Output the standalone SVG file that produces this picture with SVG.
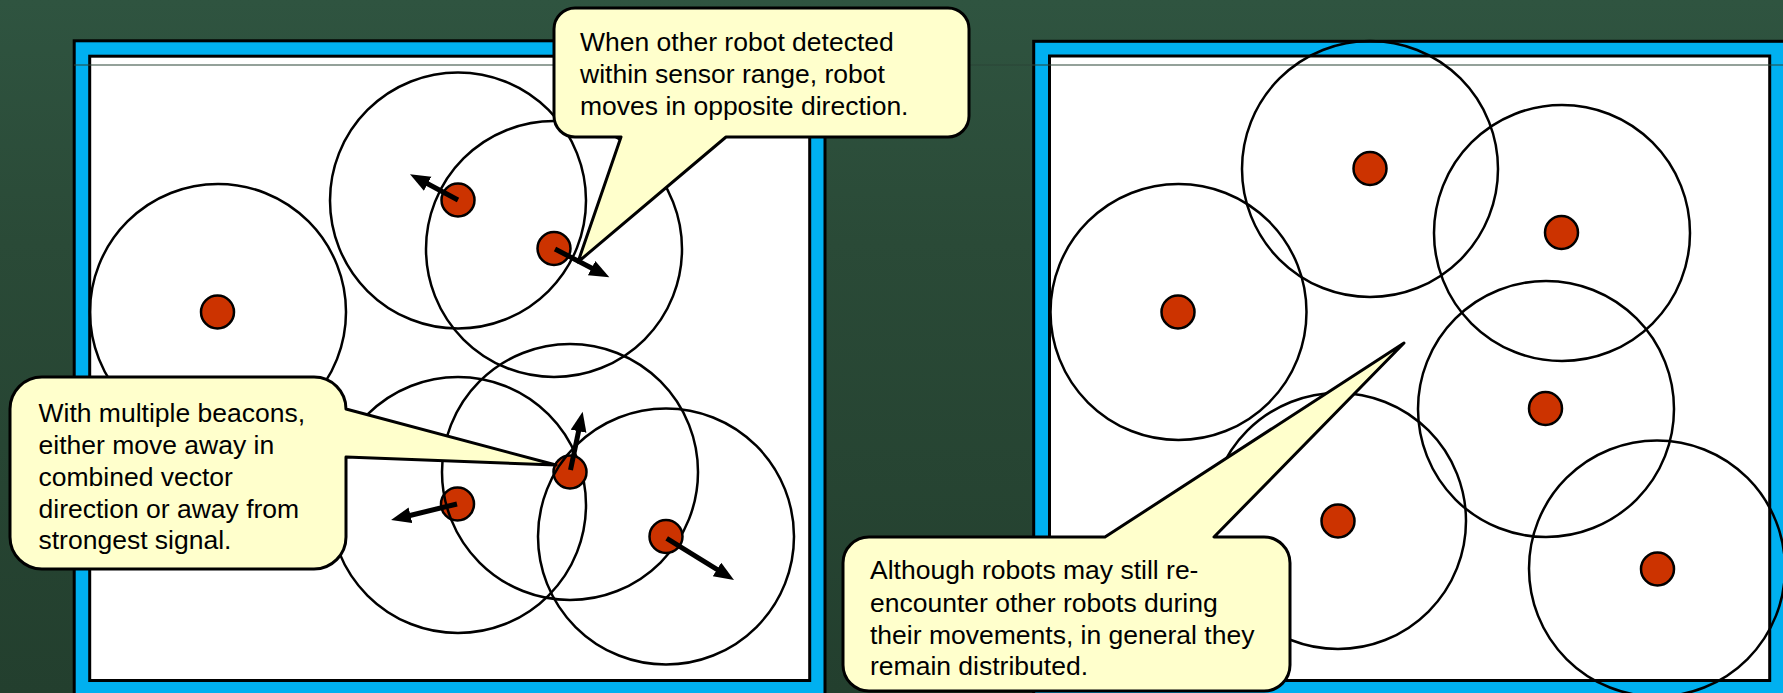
<svg xmlns="http://www.w3.org/2000/svg" width="1783" height="693" viewBox="0 0 1783 693">
<defs>
<linearGradient id="bg" x1="0" y1="0" x2="0" y2="1">
<stop offset="0" stop-color="#2f5440"/>
<stop offset="0.35" stop-color="#2a4a37"/>
<stop offset="1" stop-color="#233f2e"/>
</linearGradient>
<marker id="ah" markerUnits="userSpaceOnUse" markerWidth="22" markerHeight="18" refX="8" refY="8" orient="auto" viewBox="0 0 22 18">
<path d="M0,0 L20,8 L0,16 Z" fill="#000"/>
</marker>
<style>
.frame{fill:#00b0f0;stroke:#000;stroke-width:3}
.inner{fill:#fff;stroke:#000;stroke-width:3}
.range{fill:none;stroke:#000;stroke-width:2.5}
.robot{fill:#cc3300;stroke:#000;stroke-width:2.5}
.arrow{stroke:#000;stroke-width:5;fill:none;marker-end:url(#ah)}
.callout{fill:#ffffcc;stroke:#000;stroke-width:3;stroke-linejoin:round}
.txt{font-family:"Liberation Sans",Arial,sans-serif;font-size:26.5px;fill:#000}
</style>
</defs>
<rect x="0" y="0" width="1783" height="693" fill="url(#bg)"/>

<g id="panel-left">
<rect class="frame" x="74.2" y="40.8" width="750.8" height="700"/>
<rect class="inner" x="89.7" y="56.2" width="720" height="624.3"/>
</g>
<g id="panel-right">
<rect class="frame" x="1033.7" y="41.3" width="800" height="700"/>
<rect class="inner" x="1049.5" y="56" width="720.2" height="624.5"/>
</g>
<line x1="74" y1="65" x2="1783" y2="65" stroke="#2a4536" stroke-width="1.2"/>

<g id="left-robots">
<g id="robot-a"><circle class="range" cx="218" cy="312" r="128"/><circle class="robot" cx="217.5" cy="312" r="16.5"/></g>
<g id="robot-b"><circle class="range" cx="458" cy="200.5" r="128"/><circle class="robot" cx="458" cy="200" r="16.5"/></g>
<g id="robot-c"><circle class="range" cx="554" cy="249" r="128"/><circle class="robot" cx="554" cy="248.5" r="16.5"/></g>
<g id="robot-d"><circle class="range" cx="458" cy="505" r="128"/><circle class="robot" cx="457.5" cy="504" r="16.5"/></g>
<g id="robot-e"><circle class="range" cx="570" cy="472" r="128"/><circle class="robot" cx="570" cy="472" r="16.5"/></g>
<g id="robot-f"><circle class="range" cx="666" cy="536.5" r="128"/><circle class="robot" cx="666" cy="536.5" r="16.5"/></g>
</g>

<g id="right-robots">
<g id="robot-g"><circle class="range" cx="1370" cy="169" r="128"/><circle class="robot" cx="1370" cy="168.5" r="16.5"/></g>
<g id="robot-h"><circle class="range" cx="1178.5" cy="312" r="128"/><circle class="robot" cx="1178" cy="312" r="16.5"/></g>
<g id="robot-i"><circle class="range" cx="1562" cy="233" r="128"/><circle class="robot" cx="1561.5" cy="232.5" r="16.5"/></g>
<g id="robot-j"><circle class="range" cx="1546" cy="409" r="128"/><circle class="robot" cx="1545.5" cy="408.5" r="16.5"/></g>
<g id="robot-k"><circle class="range" cx="1338" cy="521" r="128"/><circle class="robot" cx="1338" cy="521" r="16.5"/></g>
<g id="robot-l"><circle class="range" cx="1657" cy="568.5" r="128"/><circle class="robot" cx="1657.5" cy="569" r="16.5"/></g>
</g>

<g id="connectors">
<line class="arrow" x1="458" y1="200" x2="420.6" y2="180"/>
<line class="arrow" x1="555" y1="249" x2="598.7" y2="271.8"/>
<line class="arrow" x1="570.5" y1="470" x2="580.2" y2="423.4"/>
<line class="arrow" x1="457" y1="504" x2="402.7" y2="517.2"/>
<line class="arrow" x1="666.7" y1="538.3" x2="723.8" y2="573.7"/>
</g>

<g id="callout-top">
<path class="callout" d="M575,8 H948 A21,21 0 0 1 969,29 V116 A21,21 0 0 1 948,137 H726 L578,262 L621,137 H575 A21,21 0 0 1 554,116 V29 A21,21 0 0 1 575,8 Z"/>
<text class="txt" x="580" y="50.7">When other robot detected</text>
<text class="txt" x="580" y="82.7">within sensor range, robot</text>
<text class="txt" x="580" y="115">moves in opposite direction.</text>
</g>

<g id="callout-left">
<path class="callout" d="M42,377 H314 A32,32 0 0 1 346,409 L556,465 L346,457 V537 A32,32 0 0 1 314,569 H42 A32,32 0 0 1 10,537 V409 A32,32 0 0 1 42,377 Z"/>
<text class="txt" x="38.5" y="421.7">With multiple beacons,</text>
<text class="txt" x="38.5" y="453.5">either move away in</text>
<text class="txt" x="38.5" y="485.5">combined vector</text>
<text class="txt" x="38.5" y="517.5">direction or away from</text>
<text class="txt" x="38.5" y="549.3">strongest signal.</text>
</g>

<g id="callout-bottom">
<path class="callout" d="M869,537 H1105 L1404,343 L1214,537 H1264 A26,26 0 0 1 1290,563 V665 A26,26 0 0 1 1264,691 H869 A26,26 0 0 1 843,665 V563 A26,26 0 0 1 869,537 Z"/>
<text class="txt" x="870" y="579">Although robots may still re-</text>
<text class="txt" x="870" y="611.5">encounter other robots during</text>
<text class="txt" x="870" y="643.5">their movements, in general they</text>
<text class="txt" x="870" y="675">remain distributed.</text>
</g>
</svg>
